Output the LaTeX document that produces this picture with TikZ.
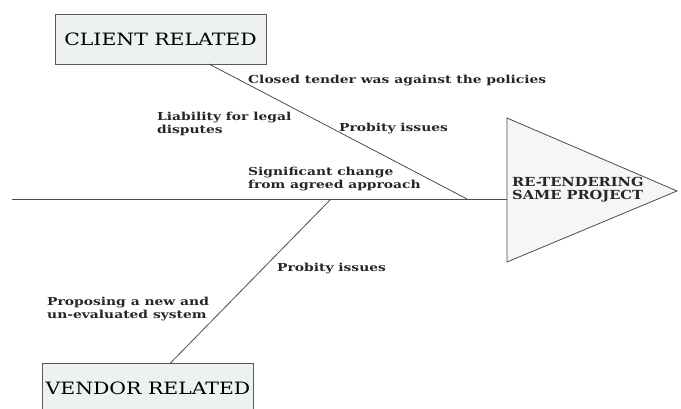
\documentclass[tikz,border=0pt]{standalone}
\usepackage{fontspec}
\setmainfont{DejaVu Serif}
\newfontfamily\causefont{DejaVu Serif Bold}[FakeStretch=1.26]
\newfontfamily\titlefont{DejaVu Serif}[FakeStretch=1.2]
\newfontfamily\effectfont{DejaVu Serif Bold}[FakeStretch=1.17]
\begin{document}
\begin{tikzpicture}[x=1pt,y=1pt,
  catbox/.style={draw=black!65,fill=boxfill,line width=0.8pt,minimum width=211pt,minimum height=50pt,inner sep=0pt,font=\titlefont\fontsize{17}{20}\selectfont},
  bone/.style={draw=black!70,line width=0.8pt},
  cause/.style={anchor=north west,inner sep=0pt,align=left,text=black!85,font=\causefont\fontsize{11}{13}\selectfont}]
\definecolor{boxfill}{HTML}{EEF1F1}
\definecolor{headfill}{HTML}{F7F6F4}
\useasboundingbox (0,0) rectangle (681,408);
% effect head
\draw[bone,fill=headfill] (507,290) -- (677,217) -- (507,146) -- cycle;
\node[anchor=north west,inner sep=0pt,align=left,text=black!85,font=\effectfont\fontsize{12.5}{13}\selectfont] (effect) at (512,231) {RE-TENDERING\\SAME PROJECT};
\coordinate (head) at (507,209);
\coordinate (tail) at (12,209);
\coordinate (cj) at (467,209);
\coordinate (vj) at (331,209);
% spine
\draw[bone] (tail) -- (head);
% category boxes
\node[catbox] (client) at (160.5,369) {CLIENT RELATED};
\node[catbox] (vendor) at (148,19.5) {VENDOR RELATED};
\coordinate (cb) at (209,344);
\coordinate (vb) at (170,44.5);
\draw[bone] (cb) -- (cj);
\draw[bone] (vb) -- (vj);
% causes
\node[cause] (c1) at (248,333) {Closed tender was against the policies};
\node[cause] (c2) at (157,296) {Liability for legal\\disputes};
\node[cause] (c3) at (339,285) {Probity issues};
\node[cause] (c4) at (248,241) {Significant change\\from agreed approach};
\node[cause] (v1) at (277,145) {Probity issues};
\node[cause] (v2) at (47,111) {Proposing a new and\\un-evaluated system};
\end{tikzpicture}
\end{document}
